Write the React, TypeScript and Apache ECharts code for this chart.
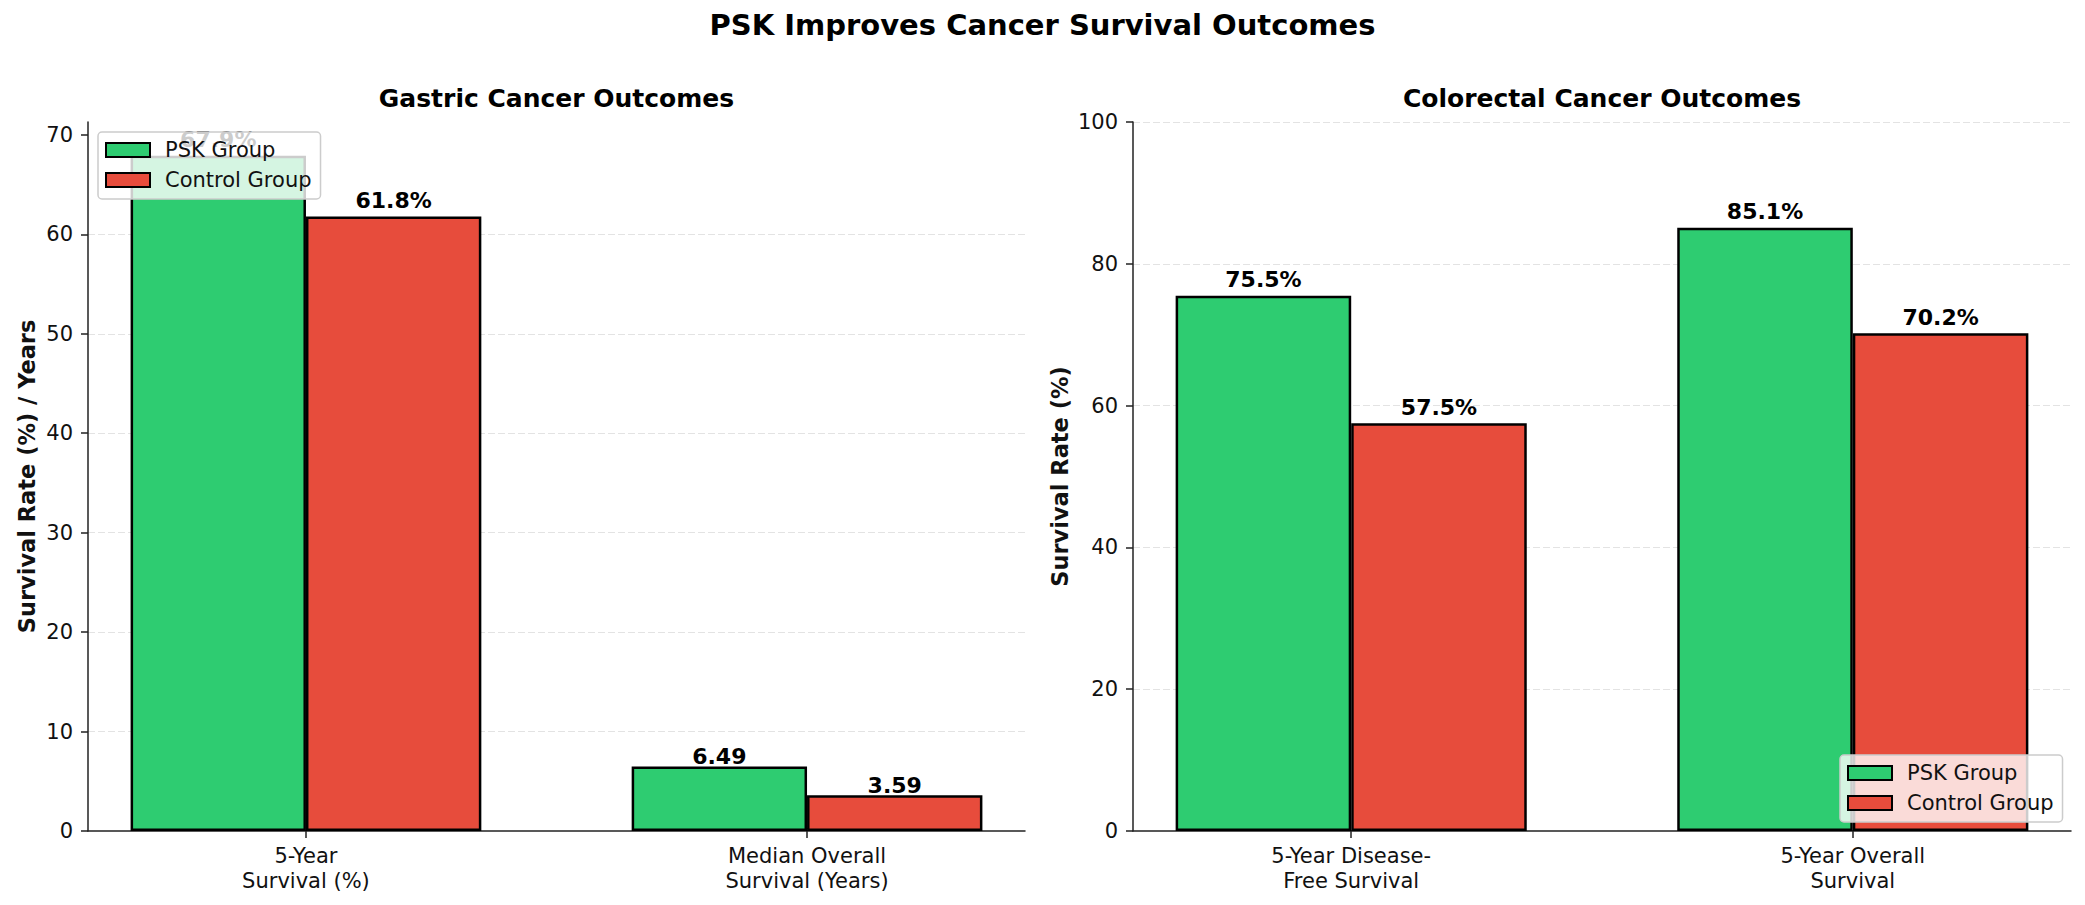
import React, { useEffect, useRef } from 'react';
import * as echarts from 'echarts';

// Gastric cancer panel
const gastricCategories = ['5-Year\nSurvival (%)', 'Median Overall\nSurvival (Years)'];
const gastricPsk = [67.9, 6.49];
const gastricControl = [61.8, 3.59];
const gastricTicks = [0, 10, 20, 30, 40, 50, 60, 70];

// Colorectal cancer panel
const colorectalCategories = ['5-Year Disease-\nFree Survival', '5-Year Overall\nSurvival'];
const colorectalPsk = [75.5, 85.1];
const colorectalControl = [57.5, 70.2];
const colorectalTicks = [0, 20, 40, 60, 80, 100];

const groupNames = ['PSK Group', 'Control Group'];
const groupColors = ['#2ecc71', '#e74c3c'];

const FONT = 'DejaVu Sans';
const W = 2085;
const H = 905;

// category positions on a numeric axis, bars 0.35 wide each
const X_MIN = -0.435;
const X_MAX = 1.435;
const BAR_UNITS = 0.35;

const grids = [
  { left: 88, top: 122, width: 937, height: 709 },
  { left: 1133, top: 122, width: 938, height: 709 },
];

function barPx(gridWidth: number) {
  return (gridWidth / (X_MAX - X_MIN)) * BAR_UNITS;
}

function App() {
  const ref = useRef<HTMLDivElement>(null);

  useEffect(() => {
    if (!ref.current) return;
    const chart = echarts.init(ref.current, undefined, { renderer: 'svg' });

    const lineStyle = { color: '#222', width: 1.5 };
    const tickStyle = { length: 7, lineStyle };
    const splitLine = {
      show: true,
      showMinLine: false,
      lineStyle: { color: '#e3e3e3', type: [7, 3] as any, width: 1.2 },
    };

    const xAxis = (gridIndex: number, cats: string[]) => ({
      type: 'value',
      gridIndex,
      min: X_MIN,
      max: X_MAX,
      axisLine: { show: true, onZero: false, lineStyle },
      axisTick: { show: true, customValues: [0, 1], ...tickStyle },
      axisLabel: {
        customValues: [0, 1],
        formatter: (v: number) => cats[Math.round(v)] ?? '',
        color: '#111',
        fontFamily: FONT,
        fontSize: 21,
        lineHeight: 25,
        margin: 12,
      },
      splitLine: { show: false },
    });

    const yAxis = (gridIndex: number, max: number, ticks: number[], name: string, nameGap: number, showMax: boolean) => ({
      type: 'value',
      gridIndex,
      min: 0,
      max,
      interval: ticks[1] - ticks[0],
      name,
      nameLocation: 'middle',
      nameGap,
      nameRotate: 90,
      nameTextStyle: { fontFamily: FONT, fontSize: 22.5, fontWeight: 'bold', color: '#111' },
      axisLine: { show: true, onZero: false, lineStyle },
      axisTick: { show: true, customValues: ticks, ...tickStyle },
      axisLabel: {
        customValues: ticks,
        color: '#111',
        fontFamily: FONT,
        fontSize: 21,
        margin: 15,
      },
      splitLine: { ...splitLine, showMaxLine: showMax },
    });

    const labelBase = {
      show: true,
      position: 'top',
      color: '#000',
      fontFamily: FONT,
      fontSize: 22,
      fontWeight: 'bold',
    };

    const pctItems = (vals: number[], yearsIdx: number | null) =>
      vals.map((v, i) => ({
        value: [i, v],
        label:
          i === yearsIdx
            ? { formatter: v.toFixed(2), distance: -1 }
            : { formatter: `${v.toFixed(1)}%`, distance: 5 },
      }));

    const barSeries = (name: string, color: string, idx: number, data: any[]) => ({
      type: 'bar',
      name,
      xAxisIndex: idx,
      yAxisIndex: idx,
      barWidth: barPx(grids[idx].width),
      barGap: '0%',
      itemStyle: { color, borderColor: '#000', borderWidth: 2.5 },
      label: labelBase,
      data,
    });

    const legend = (left: number, top: number) => ({
      orient: 'vertical',
      left,
      top,
      data: groupNames,
      icon: 'rect',
      itemWidth: 44,
      itemHeight: 14,
      itemGap: 6,
      padding: [6, 9, 7, 7],
      backgroundColor: 'rgba(255,255,255,0.8)',
      borderColor: '#cccccc',
      borderWidth: 1.5,
      borderRadius: 4,
      itemStyle: { borderColor: '#000', borderWidth: 2 },
      textStyle: { fontFamily: FONT, fontSize: 21, color: '#111', lineHeight: 24, padding: [0, 0, 0, 10] },
      selectedMode: false,
    });

    chart.setOption({
      animation: false,
      backgroundColor: '#fff',
      textStyle: { fontFamily: FONT },
      title: [
        {
          text: 'PSK Improves Cancer Survival Outcomes',
          left: W / 2,
          top: 10,
          textAlign: 'center',
          padding: 0,
          textStyle: { fontFamily: FONT, fontSize: 29, fontWeight: 'bold', color: '#000' },
        },
        {
          text: 'Gastric Cancer Outcomes',
          left: grids[0].left + grids[0].width / 2,
          top: 86,
          textAlign: 'center',
          padding: 0,
          textStyle: { fontFamily: FONT, fontSize: 25, fontWeight: 'bold', color: '#000' },
        },
        {
          text: 'Colorectal Cancer Outcomes',
          left: grids[1].left + grids[1].width / 2,
          top: 86,
          textAlign: 'center',
          padding: 0,
          textStyle: { fontFamily: FONT, fontSize: 25, fontWeight: 'bold', color: '#000' },
        },
      ],
      legend: [legend(98, 132), legend(1840, 755)],
      grid: grids.map((g) => ({ ...g, containLabel: false })),
      xAxis: [xAxis(0, gastricCategories), xAxis(1, colorectalCategories)],
      yAxis: [
        yAxis(0, 67.9 * 1.05, gastricTicks, 'Survival Rate (%) / Years', 50, false),
        yAxis(1, 100, colorectalTicks, 'Survival Rate (%)', 62, true),
      ],
      series: [
        barSeries(groupNames[0], groupColors[0], 0, pctItems(gastricPsk, 1)),
        barSeries(groupNames[1], groupColors[1], 0, pctItems(gastricControl, 1)),
        barSeries(groupNames[0], groupColors[0], 1, pctItems(colorectalPsk, null)),
        barSeries(groupNames[1], groupColors[1], 1, pctItems(colorectalControl, null)),
      ],
    });

    return () => chart.dispose();
  }, []);

  return (
    <div
      ref={ref}
      style={{ position: 'fixed', left: 0, top: 0, width: W, height: H, background: '#fff' }}
    />
  );
}

export default App;
